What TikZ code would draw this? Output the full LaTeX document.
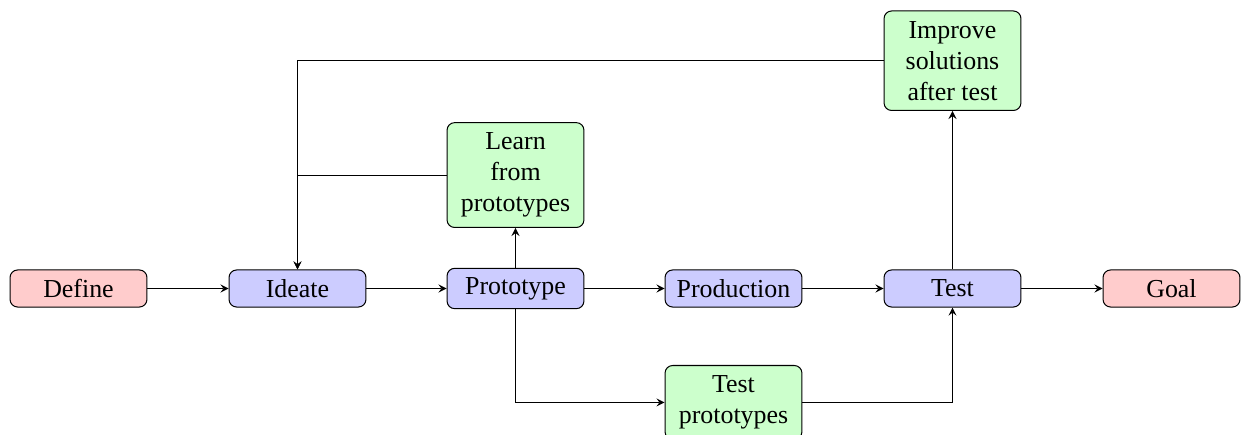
\documentclass[tikz,border=0pt]{standalone}
\usepackage{fontspec}
\setmainfont{Liberation Serif}
\usetikzlibrary{arrows}
\begin{document}
\begin{tikzpicture}[x=0.3937pt, y=-0.3937pt, >=stealth,
  box/.style={draw, rounded corners=3pt, minimum width=53.9pt, minimum height=14.6pt, inner sep=3.5pt, align=center, font=\fontsize{10.2}{12.2}\selectfont},
  endbox/.style={box, fill=red!20},
  mainbox/.style={box, fill=blue!20},
  sidebox/.style={box, fill=green!20, inner ysep=4pt},
  conn/.style={->}]
\useasboundingbox (0,0) rectangle (1241,435);
\node[endbox]  (define) at (78.5,288.5) {Define};
\node[mainbox] (ideate) at (297.5,288.5) {Ideate};
\node[mainbox] (proto)  at (515.5,288.5) {Prototype};
\node[mainbox] (prod)   at (733.5,288.5) {Production};
\node[mainbox] (test)   at (952.5,288.5) {Test};
\node[endbox]  (goal)   at (1171.5,288.5) {Goal};
\node[sidebox, anchor=south] (learn) at (515.5,228) {Learn\\from\\prototypes};
\node[sidebox, anchor=south] (improve) at (952.5,111) {Improve\\solutions\\after test};
\node[sidebox, anchor=north] (tproto) at (733.5,365) {Test\\prototypes};
\draw[conn] (define) -- (ideate);
\draw[conn] (ideate) -- (proto);
\draw[conn] (proto) -- (prod);
\draw[conn] (prod) -- (test);
\draw[conn] (test) -- (goal);
\draw[conn] (proto) -- (learn);
\draw[conn] (test) -- (improve);
\draw[conn] (learn.west) -| (ideate.north);
\draw[conn] (improve.west) -| (ideate.north);
\draw[conn] (proto.south) |- (tproto.west);
\draw[conn] (tproto.east) -| (test.south);
\end{tikzpicture}
\end{document}
